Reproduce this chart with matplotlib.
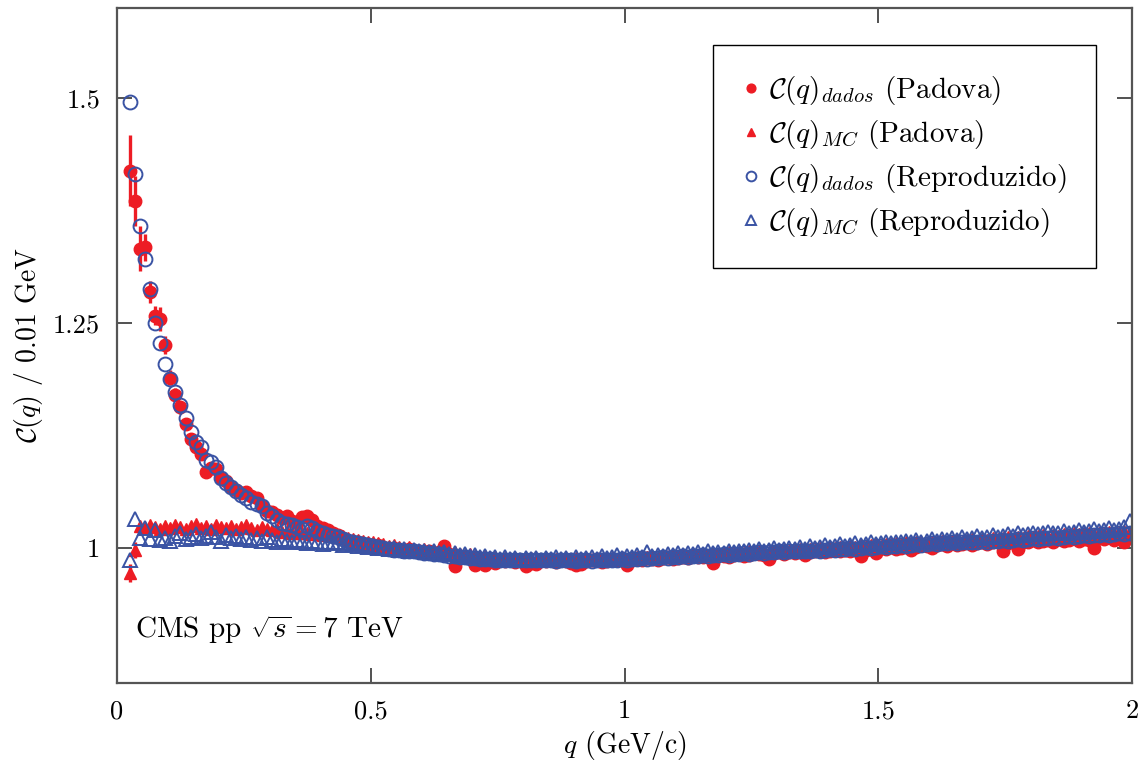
import numpy as np
import matplotlib
matplotlib.use("Agg")
from matplotlib import pyplot as plt

plt.rcParams['font.family'] = 'serif'
plt.rcParams['font.serif'] = ['cmr10', 'DejaVu Serif']
plt.rcParams['mathtext.fontset'] = 'cm'
plt.rcParams['axes.formatter.use_mathtext'] = True

# bins of 0.01 GeV, centres from 0.025 to 1.995
q = np.round(np.arange(0.025, 2.0, 0.01), 3)

# C(q) dados - Padova (filled red circles)
dados_padova = [
    1.419, 1.385, 1.332, 1.334, 1.284, 1.258, 1.254, 1.225, 1.189, 1.170,
    1.156, 1.138, 1.121, 1.112, 1.104, 1.084, 1.089, 1.088, 1.078, 1.074,
    1.068, 1.064, 1.061, 1.062, 1.058, 1.055, 1.046, 1.041, 1.040, 1.036,
    1.033, 1.035, 1.030, 1.028, 1.034, 1.035, 1.031, 1.024, 1.022, 1.020,
    1.016, 1.014, 1.011, 1.008, 1.004, 1.006, 1.003, 1.004, 1.002, 1.003,
    1.001, 0.999, 1.000, 0.998, 0.997, 0.999, 0.996, 0.997, 0.995, 0.996,
    0.994, 0.995, 1.002, 0.993, 0.980, 0.991, 0.990, 0.989, 0.981, 0.984,
    0.981, 0.987, 0.983, 0.986, 0.985, 0.987, 0.984, 0.986, 0.980, 0.983,
    0.982, 0.986, 0.985, 0.987, 0.984, 0.986, 0.985, 0.983, 0.981, 0.982,
    0.985, 0.987, 0.986, 0.984, 0.985, 0.987, 0.986, 0.988, 0.981, 0.987,
    0.988, 0.987, 0.989, 0.988, 0.987, 0.989, 0.990, 0.988, 0.989, 0.990,
    0.989, 0.991, 0.990, 0.990, 0.991, 0.983, 0.992, 0.991, 0.990, 0.992,
    0.993, 0.991, 0.992, 0.994, 0.993, 0.992, 0.988, 0.994, 0.995, 0.993,
    0.995, 0.994, 0.996, 0.992, 0.995, 0.997, 0.996, 0.995, 0.997, 0.998,
    0.996, 0.998, 0.997, 0.999, 0.991, 0.998, 0.999, 0.994, 1.000, 0.999,
    1.001, 0.999, 1.000, 1.002, 0.998, 1.001, 1.003, 1.002, 1.000, 1.003,
    1.004, 1.002, 1.005, 1.003, 1.004, 1.006, 1.003, 1.005, 1.006, 1.004,
    1.006, 1.007, 0.996, 1.005, 1.008, 0.999, 1.006, 1.007, 1.009, 1.006,
    1.008, 1.009, 1.007, 1.010, 1.008, 1.009, 1.011, 1.008, 1.010, 1.009,
    1.000, 1.011, 1.010, 1.012, 1.009, 1.011, 1.006, 1.012,
]
err_dados_padova = [0.039, 0.028, 0.025, 0.015, 0.012, 0.011, 0.013, 0.010,
                    0.008, 0.007, 0.007, 0.006, 0.006, 0.005, 0.005, 0.005,
                    0.005, 0.004, 0.004, 0.004]

# C(q) MC - Padova (filled red triangles)
mc_padova = [
    0.972, 0.998, 1.024, 1.022, 1.025, 1.023, 1.021, 1.024, 1.022, 1.025,
    1.023, 1.021, 1.024, 1.026, 1.022, 1.024, 1.021, 1.025, 1.023, 1.022,
    1.024, 1.021, 1.023, 1.025, 1.022, 1.020, 1.023, 1.021, 1.020, 1.021,
    1.018, 1.019, 1.017, 1.018, 1.016, 1.017, 1.015, 1.016, 1.014, 1.015,
    1.013, 1.012, 1.013, 1.011, 1.010, 1.009, 1.008, 1.007, 1.006, 1.005,
    1.004, 1.002, 1.003, 1.001, 1.000, 1.001, 0.999, 0.998, 0.999, 0.997,
    0.996, 0.997, 0.995, 0.994, 0.995, 0.993, 0.992, 0.993, 0.991, 0.990,
    0.991, 0.989, 0.990, 0.988, 0.989, 0.988, 0.989, 0.987, 0.988, 0.989,
    0.987, 0.988, 0.989, 0.987, 0.988, 0.986, 0.988, 0.987, 0.989, 0.987,
    0.988, 0.987, 0.989, 0.988, 0.987, 0.989, 0.988, 0.990, 0.988, 0.989,
    0.990, 0.989, 0.990, 0.991, 0.989, 0.991, 0.990, 0.992, 0.991, 0.992,
    0.991, 0.993, 0.992, 0.993, 0.992, 0.994, 0.993, 0.994, 0.995, 0.994,
    0.995, 0.994, 0.996, 0.995, 0.996, 0.997, 0.995, 0.997, 0.996, 0.998,
    0.997, 0.998, 0.999, 0.997, 0.999, 0.998, 1.000, 0.999, 1.001, 1.000,
    1.001, 1.000, 1.002, 1.001, 1.003, 1.002, 1.003, 1.004, 1.002, 1.004,
    1.004, 1.005, 1.004, 1.006, 1.005, 1.006, 1.007, 1.005, 1.007, 1.006,
    1.008, 1.007, 1.008, 1.009, 1.007, 1.009, 1.010, 1.008, 1.010, 1.009,
    1.011, 1.010, 1.011, 1.012, 1.010, 1.012, 1.011, 1.013, 1.012, 1.013,
    1.014, 1.012, 1.014, 1.013, 1.015, 1.014, 1.016, 1.015, 1.016, 1.017,
    1.015, 1.017, 1.016, 1.018, 1.017, 1.018, 1.019, 1.018,
]
err_mc_padova = [0.010, 0.009]

# C(q) dados - reproduzido (open blue circles)
dados_repro = [
    1.495, 1.415, 1.358, 1.321, 1.288, 1.250, 1.228, 1.204, 1.187, 1.173,
    1.159, 1.144, 1.129, 1.118, 1.112, 1.098, 1.095, 1.090, 1.078, 1.072,
    1.068, 1.063, 1.059, 1.055, 1.051, 1.049, 1.047, 1.039, 1.035, 1.031,
    1.028, 1.027, 1.025, 1.023, 1.021, 1.024, 1.022, 1.019, 1.016, 1.014,
    1.013, 1.012, 1.010, 1.008, 1.007, 1.005, 1.004, 1.003, 1.002, 1.001,
    1.000, 0.999, 0.998, 0.998, 0.997, 0.996, 0.996, 0.995, 0.994, 0.994,
    0.993, 0.993, 0.992, 0.991, 0.991, 0.990, 0.990, 0.989, 0.989, 0.988,
    0.988, 0.988, 0.987, 0.987, 0.987, 0.986, 0.987, 0.986, 0.986, 0.987,
    0.986, 0.986, 0.987, 0.986, 0.985, 0.986, 0.986, 0.987, 0.985, 0.986,
    0.986, 0.985, 0.986, 0.987, 0.986, 0.987, 0.987, 0.988, 0.987, 0.988,
    0.988, 0.989, 0.988, 0.989, 0.989, 0.990, 0.989, 0.990, 0.990, 0.991,
    0.990, 0.991, 0.991, 0.992, 0.991, 0.992, 0.992, 0.993, 0.992, 0.993,
    0.993, 0.994, 0.993, 0.994, 0.995, 0.994, 0.995, 0.995, 0.996, 0.995,
    0.996, 0.997, 0.996, 0.997, 0.997, 0.998, 0.997, 0.998, 0.999, 0.998,
    0.999, 0.999, 1.000, 0.999, 1.000, 1.001, 1.000, 1.001, 1.002, 1.001,
    1.002, 1.002, 1.003, 1.002, 1.003, 1.004, 1.003, 1.004, 1.005, 1.004,
    1.005, 1.005, 1.006, 1.005, 1.006, 1.007, 1.006, 1.007, 1.008, 1.007,
    1.008, 1.008, 1.009, 1.008, 1.009, 1.010, 1.009, 1.010, 1.011, 1.010,
    1.011, 1.011, 1.012, 1.011, 1.012, 1.013, 1.012, 1.013, 1.014, 1.013,
    1.014, 1.014, 1.015, 1.014, 1.015, 1.016, 1.015, 1.016,
]

# C(q) MC - reproduzido (open blue triangles)
mc_repro = [
    0.987, 1.032, 1.011, 1.022, 1.010, 1.020, 1.009, 1.011, 1.008, 1.013,
    1.016, 1.010, 1.012, 1.015, 1.011, 1.013, 1.018, 1.012, 1.008, 1.014,
    1.011, 1.013, 1.010, 1.012, 1.009, 1.011, 1.008, 1.012, 1.009, 1.007,
    1.010, 1.008, 1.006, 1.009, 1.007, 1.005, 1.008, 1.006, 1.004, 1.007,
    1.005, 1.006, 1.003, 1.005, 1.004, 1.002, 1.003, 1.001, 1.002, 1.000,
    1.000, 0.999, 1.000, 0.998, 0.999, 0.997, 0.998, 0.996, 0.997, 0.995,
    0.996, 0.994, 0.995, 0.993, 0.994, 0.992, 0.993, 0.991, 0.992, 0.990,
    0.991, 0.989, 0.990, 0.988, 0.990, 0.988, 0.989, 0.987, 0.989, 0.988,
    0.989, 0.987, 0.989, 0.988, 0.990, 0.988, 0.989, 0.987, 0.990, 0.988,
    0.989, 0.990, 0.988, 0.991, 0.989, 0.990, 0.992, 0.989, 0.991, 0.990,
    0.992, 0.990, 0.995, 0.991, 0.992, 0.991, 0.993, 0.992, 0.994, 0.992,
    0.994, 0.993, 0.995, 0.993, 0.996, 0.994, 0.995, 0.994, 0.997, 0.995,
    0.997, 0.996, 0.998, 0.996, 0.999, 0.997, 0.998, 1.000, 0.998, 0.999,
    1.000, 0.999, 1.001, 0.999, 1.002, 1.000, 1.001, 1.003, 1.001, 1.002,
    1.004, 1.002, 1.003, 1.005, 1.003, 1.004, 1.006, 1.004, 1.005, 1.007,
    1.005, 1.007, 1.006, 1.008, 1.006, 1.009, 1.007, 1.008, 1.010, 1.008,
    1.010, 1.009, 1.011, 1.009, 1.012, 1.010, 1.011, 1.013, 1.011, 1.012,
    1.014, 1.012, 1.013, 1.015, 1.013, 1.016, 1.014, 1.015, 1.017, 1.015,
    1.016, 1.018, 1.016, 1.017, 1.019, 1.017, 1.018, 1.020, 1.018, 1.019,
    1.021, 1.019, 1.020, 1.022, 1.020, 1.021, 1.023, 1.030,
]

red = '#ED1C24'
blue = '#3A53A4'

fig = plt.figure(figsize=(11.47, 7.63), dpi=100)
ax = fig.add_axes([0.102, 0.105, 0.885, 0.885])

n1 = len(err_dados_padova)
n2 = len(err_mc_padova)
ax.errorbar(q[:n1], dados_padova[:n1], yerr=err_dados_padova, fmt='none',
            ecolor=red, elinewidth=2.4, capsize=0)
ax.errorbar(q[:n2], mc_padova[:n2], yerr=err_mc_padova, fmt='none',
            ecolor=red, elinewidth=2.4, capsize=0)
ax.plot(q, dados_padova, 'o', color=red, ms=9, mec=red,
        label=r'$\mathcal{C}(q)_{dados}$ (Padova)')
ax.plot(q, mc_padova, '^', color=red, ms=9, mec=red,
        label=r'$\mathcal{C}(q)_{MC}$ (Padova)')
ax.plot(q, dados_repro, 'o', mfc='none', mec=blue, mew=1.4, ms=10,
        label=r'$\mathcal{C}(q)_{dados}$ (Reproduzido)')
ax.plot(q, mc_repro, '^', mfc='none', mec=blue, mew=1.4, ms=10,
        label=r'$\mathcal{C}(q)_{MC}$ (Reproduzido)')

ax.set_xlim(0, 2)
ax.set_ylim(0.85, 1.6)
ax.set_xticks([0, 0.5, 1, 1.5, 2])
ax.set_xticklabels(['0', '0.5', '1', '1.5', '2'])
ax.set_yticks([1, 1.25, 1.5])
ax.set_yticklabels(['1', '1.25', '1.5'])
ax.tick_params(direction='in', length=11, width=1.2, color='#333333',
               labelsize=19, pad=12, top=True, right=True)
for s in ax.spines.values():
    s.set_color('#555555')
    s.set_linewidth(1.6)

ax.set_xlabel(r'$q$ (GeV/c)', fontsize=20, labelpad=4)
ax.set_ylabel(r'$\mathcal{C}(q)$ / 0.01 GeV', fontsize=20, labelpad=6)

ax.text(0.018, 0.079, r'CMS pp $\sqrt{s} = 7$ TeV', transform=ax.transAxes,
        fontsize=21, va='center', ha='left')

leg = ax.legend(loc='upper right', bbox_to_anchor=(0.964, 0.945),
                borderaxespad=0, fontsize=21, numpoints=1, markerscale=0.7,
                handlelength=0.6, handletextpad=0.3, labelspacing=0.38,
                borderpad=1.0, fancybox=False, framealpha=1,
                edgecolor='black')
leg.get_frame().set_linewidth(1.0)

fig.savefig('out.png', dpi=100)
